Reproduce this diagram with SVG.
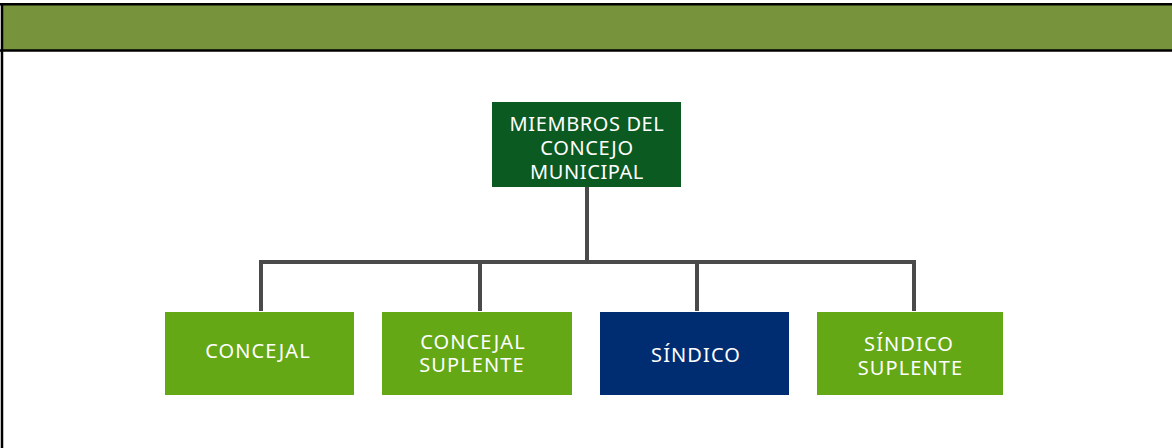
<svg xmlns="http://www.w3.org/2000/svg" width="1172" height="448" viewBox="0 0 1172 448">
<style>
.t{font-family:"Noto Sans","Open Sans",sans-serif;font-size:20px;fill:#ffffff;text-anchor:middle;letter-spacing:1.1px}
.m{letter-spacing:0.6px}
.c{fill:none;stroke:#4a4a4a;stroke-width:4}
.lg{fill:#64A815}
</style>
<rect width="1172" height="448" fill="#ffffff"/>
<rect x="2" y="4" width="1172" height="46" fill="#77933C"/>
<g stroke="#000" stroke-width="2.5" fill="none">
<line x1="0" y1="4.3" x2="1172" y2="4.3"/>
<line x1="0" y1="50.5" x2="1172" y2="50.5"/>
<line x1="2" y1="3" x2="2" y2="448"/>
</g>
<g id="connectors">
<path class="c" d="M587 187 V262 M261 311 V262 H914 V311 M480 262 V311 M697 262 V311"/>
</g>
<g id="miembros">
<rect x="492" y="102" width="189" height="85" fill="#0B5A22"/>
<text class="t m" x="587" y="131">MIEMBROS DEL</text>
<text class="t m" x="587" y="154.5">CONCEJO</text>
<text class="t m" x="587" y="178.5">MUNICIPAL</text>
</g>
<g id="concejal">
<rect class="lg" x="165" y="312" width="189" height="83"/>
<text class="t" x="258" y="358">CONCEJAL</text>
</g>
<g id="concejal-suplente">
<rect class="lg" x="382" y="312" width="190" height="83"/>
<text class="t" x="473" y="349">CONCEJAL</text>
<text class="t" x="472" y="372">SUPLENTE</text>
</g>
<g id="sindico">
<rect x="600" y="312" width="189" height="83" fill="#002D72"/>
<text class="t" x="696" y="362">SÍNDICO</text>
</g>
<g id="sindico-suplente">
<rect class="lg" x="817" y="312" width="186" height="83"/>
<text class="t" x="909" y="351">SÍNDICO</text>
<text class="t" x="910.5" y="375">SUPLENTE</text>
</g>
</svg>
